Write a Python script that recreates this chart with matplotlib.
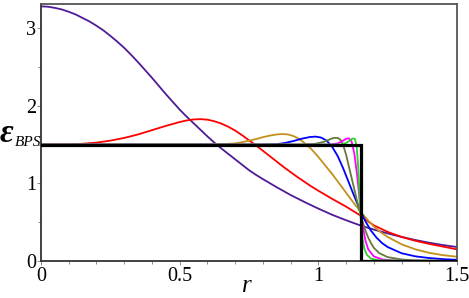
import matplotlib
matplotlib.use("Agg")
import matplotlib.pyplot as plt
from matplotlib.ticker import MultipleLocator

# ---- data ----
purple_x = [0.000, 0.025, 0.050, 0.075, 0.100, 0.125, 0.150, 0.175, 0.200, 0.225, 0.250, 0.275,
            0.300, 0.325, 0.350, 0.375, 0.400, 0.425, 0.450, 0.475, 0.500, 0.525, 0.550, 0.575,
            0.600, 0.625, 0.650, 0.675, 0.700, 0.725, 0.750, 0.775, 0.800, 0.850, 0.900, 0.950,
            1.000, 1.050, 1.100, 1.150, 1.200, 1.250, 1.300, 1.350, 1.400, 1.450, 1.500]
purple_y = [3.280, 3.275, 3.260, 3.240, 3.210, 3.175, 3.130, 3.085, 3.030, 2.970, 2.900, 2.825,
            2.745, 2.655, 2.560, 2.460, 2.360, 2.255, 2.150, 2.050, 1.950, 1.860, 1.775, 1.690,
            1.605, 1.525, 1.450, 1.380, 1.310, 1.240, 1.170, 1.110, 1.055, 0.950, 0.850, 0.760,
            0.675, 0.595, 0.525, 0.460, 0.405, 0.355, 0.310, 0.270, 0.235, 0.205, 0.180]

red_x = [0.000, 0.100, 0.150, 0.200, 0.250, 0.300, 0.350, 0.400, 0.450, 0.500, 0.525, 0.550,
         0.575, 0.600, 0.625, 0.650, 0.675, 0.700, 0.725, 0.750, 0.775, 0.800, 0.825, 0.850,
         0.875, 0.900, 0.925, 0.950, 0.975, 1.000, 1.050, 1.100, 1.150, 1.175, 1.200, 1.250,
         1.300, 1.350, 1.400, 1.450, 1.500]
red_y = [1.500, 1.502, 1.510, 1.525, 1.550, 1.585, 1.630, 1.685, 1.740, 1.790, 1.810, 1.823,
         1.827, 1.820, 1.800, 1.770, 1.730, 1.680, 1.620, 1.555, 1.490, 1.420, 1.350, 1.280,
         1.210, 1.145, 1.080, 1.020, 0.960, 0.905, 0.800, 0.700, 0.590, 0.520, 0.460, 0.375,
         0.310, 0.260, 0.220, 0.185, 0.150]

gold_x = [0.000, 0.600, 0.650, 0.700, 0.725, 0.750, 0.775, 0.800, 0.825, 0.850, 0.870, 0.890,
          0.910, 0.930, 0.950, 0.975, 1.000, 1.025, 1.050, 1.075, 1.100, 1.125, 1.150, 1.175,
          1.200, 1.225, 1.250, 1.300, 1.350, 1.400, 1.450, 1.500]
gold_y = [1.500, 1.500, 1.503, 1.515, 1.530, 1.550, 1.570, 1.595, 1.615, 1.630, 1.635, 1.630,
          1.610, 1.575, 1.520, 1.440, 1.340, 1.230, 1.120, 1.000, 0.880, 0.760, 0.645, 0.540,
          0.445, 0.370, 0.310, 0.215, 0.150, 0.105, 0.075, 0.055]

blue_x = [0.00, 0.80, 0.85, 0.88, 0.91, 0.94, 0.97, 0.99, 1.01, 1.03, 1.05, 1.07, 1.09, 1.11,
          1.13, 1.15, 1.17, 1.19, 1.21, 1.23, 1.25, 1.30, 1.35, 1.40, 1.45, 1.50]
blue_y = [1.500, 1.500, 1.505, 1.520, 1.545, 1.575, 1.597, 1.602, 1.590, 1.550, 1.470, 1.350,
          1.190, 1.010, 0.830, 0.660, 0.510, 0.390, 0.300, 0.230, 0.180, 0.100, 0.060, 0.038,
          0.024, 0.015]

olive_x = [0.00, 0.95, 0.99, 1.02, 1.04, 1.055, 1.07, 1.08, 1.09, 1.10, 1.11, 1.12, 1.13, 1.14,
           1.15, 1.16, 1.17, 1.18, 1.19, 1.20, 1.22, 1.25, 1.30, 1.35, 1.50]
olive_y = [1.500, 1.500, 1.510, 1.535, 1.565, 1.585, 1.585, 1.560, 1.490, 1.370, 1.220, 1.070,
           0.920, 0.770, 0.630, 0.500, 0.390, 0.300, 0.230, 0.170, 0.100, 0.050, 0.020, 0.008,
           0.000]

magenta_x = [0.00, 1.04, 1.07, 1.09, 1.10, 1.11, 1.12, 1.13, 1.14, 1.15, 1.16, 1.17, 1.18,
             1.20, 1.23, 1.28, 1.50]
magenta_y = [1.500, 1.500, 1.515, 1.550, 1.575, 1.580, 1.540, 1.380, 1.100, 0.750, 0.450,
             0.260, 0.150, 0.060, 0.020, 0.005, 0.000]

green_x = [0.00, 1.08, 1.10, 1.115, 1.125, 1.132, 1.138, 1.143, 1.148, 1.153, 1.158, 1.165,
           1.175, 1.19, 1.22, 1.50]
green_y = [1.500, 1.500, 1.520, 1.555, 1.580, 1.570, 1.480, 1.250, 0.900, 0.550, 0.320, 0.170,
           0.080, 0.030, 0.008, 0.000]

step_x = [0.00, 1.155, 1.155, 1.50]
step_y = [1.50, 1.50, 0.00, 0.00]

x_ticks = [0, 0.5, 1, 1.5]
x_ticklabels = ["0", "0.5", "1", "1.5"]
y_ticks = [0, 1, 2, 3]
y_ticklabels = ["0", "1", "2", "3"]

series = [
    (purple_x, purple_y, "#4f1a96"),
    (red_x, red_y, "#ff0000"),
    (gold_x, gold_y, "#c4901c"),
    (blue_x, blue_y, "#0000ff"),
    (olive_x, olive_y, "#667a3c"),
    (magenta_x, magenta_y, "#ff00ff"),
    (green_x, green_y, "#33cc33"),
]

plt.rcParams["font.family"] = ["Liberation Serif", "DejaVu Serif"]

fig = plt.figure(figsize=(4.69, 2.98), dpi=100)
ax = fig.add_axes([41 / 469, 1 - 261 / 298, (457 - 41) / 469, (261 - 4) / 298])

for xs, ys, c in series:
    ax.plot(xs, ys, color=c, lw=1.3, solid_joinstyle="round", solid_capstyle="round", zorder=2)
ax.plot(step_x, step_y, color="black", lw=2.3, solid_joinstyle="miter", zorder=3)

ax.set_xlim(0, 1.5)
ax.set_ylim(0, 3.31)
ax.set_xticks(x_ticks)
ax.set_xticklabels(x_ticklabels)
ax.set_yticks(y_ticks)
ax.set_yticklabels(y_ticklabels)
ax.xaxis.set_minor_locator(MultipleLocator(0.1))
ax.yaxis.set_minor_locator(MultipleLocator(0.5))
ax.tick_params(which="both", direction="out", color="#888888", width=0.7, labelsize=14.5)
ax.tick_params(which="major", length=3)
ax.tick_params(which="minor", length=2.5)
ax.tick_params(axis="x", pad=1.5)
ax.tick_params(axis="y", pad=0.5)

for side in ["left", "bottom"]:
    ax.spines[side].set_color("#333333")
    ax.spines[side].set_linewidth(1.3)
for side in ["top", "right"]:
    ax.spines[side].set_color("#555555")
    ax.spines[side].set_linewidth(1.3)

fig.text(247 / 469, 1 - 292 / 298, "r", style="italic", fontsize=18, ha="center", va="baseline")
fig.text(0 / 469, 1 - 142 / 298, "\u03b5", style="italic", fontweight="bold", fontsize=24,
         ha="left", va="baseline")
fig.text(15 / 469, 1 - 146 / 298, "BPS", style="italic", fontsize=11, ha="left", va="baseline")

fig.savefig("out.png", dpi=100)
